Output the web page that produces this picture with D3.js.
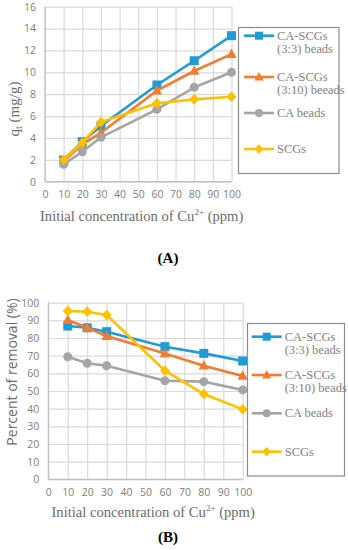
<!DOCTYPE html>
<html><head><meta charset="utf-8">
<script src="https://cdn.jsdelivr.net/npm/d3@7"></script>
<style>body{margin:0;background:#fff}svg{display:block}</style>
</head><body>
<svg id="c" width="348" height="550"></svg>
<script>
const conc = [10, 20, 30, 60, 80, 100];
const seriesNames = ["CA-SCGs|(3:3) beads", "CA-SCGs|(3:10) beeads", "CA beads", "SCGs"];
const seriesNamesB = ["CA-SCGs|(3:3) beads", "CA-SCGs|(3:10) beads", "CA beads", "SCGs"];
const colors = ["#1f9bd7", "#f47b2f", "#a5a5a5", "#ffc000"];
const shapes = ["square", "triangle", "circle", "diamond"];
const qA_33 = [1.98, 3.66, 5.1, 8.84, 11.06, 13.35];
const qA_310 = [1.9, 3.4, 4.48, 8.32, 10.12, 11.67];
const qA_CA = [1.59, 2.74, 4.06, 6.62, 8.63, 10.0];
const qA_SCG = [2.0, 3.57, 5.45, 7.17, 7.53, 7.77];
const rB_33 = [86.8, 85.8, 83.6, 75.1, 71.3, 67.0];
const rB_310 = [90.2, 85.8, 81.1, 71.3, 64.3, 58.5];
const rB_CA = [69.4, 65.7, 64.3, 55.8, 55.3, 50.6];
const rB_SCG = [95.3, 94.9, 93.0, 61.5, 48.3, 39.6];
const xTicks = [0, 10, 20, 30, 40, 50, 60, 70, 80, 90, 100];
const yTicksA = [0, 2, 4, 6, 8, 10, 12, 14, 16];
const yTicksB = [0, 10, 20, 30, 40, 50, 60, 70, 80, 90, 100];

const svg = d3.select("#c");
const serif = "'Liberation Serif', 'DejaVu Serif', serif";
const sans = "'Open Sans', 'Liberation Sans', sans-serif";

function marker(g, shape, x, y, color, s) {
  if (shape === "square") g.append("rect").attr("x", x - s).attr("y", y - s).attr("width", 2*s).attr("height", 2*s).attr("fill", color);
  else if (shape === "circle") g.append("circle").attr("cx", x).attr("cy", y).attr("r", s).attr("fill", color);
  else if (shape === "triangle") g.append("path").attr("d", `M${x},${y-s*1.25}L${x+s*1.15},${y+s*0.85}L${x-s*1.15},${y+s*0.85}Z`).attr("fill", color);
  else g.append("path").attr("d", `M${x},${y-s*1.2}L${x+s*1.1},${y}L${x},${y+s*1.2}L${x-s*1.1},${y}Z`).attr("fill", color);
}

function panel(o) {
  const x = d3.scaleLinear().domain([0, 100]).range([o.x0, o.x1]);
  const y = d3.scaleLinear().domain([0, o.ymax]).range([o.y0, o.y1]);
  const g = svg.append("g");
  g.append("g").attr("transform", `translate(0,${o.y0})`)
    .call(d3.axisBottom(x).tickValues(xTicks).tickSize(o.y1 - o.y0).tickFormat(""))
    .call(a => a.select(".domain").remove())
    .call(a => a.selectAll("line").attr("stroke", "#d9d9d9").attr("stroke-width", 1.2));
  g.append("g").attr("transform", `translate(${o.x0},0)`)
    .call(d3.axisRight(y).tickValues(o.yTicks).tickSize(o.x1 - o.x0).tickFormat(""))
    .call(a => a.select(".domain").remove())
    .call(a => a.selectAll("line").attr("stroke", "#d9d9d9").attr("stroke-width", 1.2));
  g.append("line").attr("x1", o.x0).attr("x2", o.x1).attr("y1", o.y0).attr("y2", o.y0).attr("stroke", "#bfbfbf").attr("stroke-width", 1.2);
  g.append("line").attr("x1", o.x0).attr("x2", o.x0).attr("y1", o.y0).attr("y2", o.y1).attr("stroke", "#bfbfbf").attr("stroke-width", 1.2);
  const xa = g.append("g").attr("transform", `translate(0,${o.y0 + 6})`)
    .call(d3.axisBottom(x).tickValues(xTicks).tickSize(0));
  xa.select(".domain").remove();
  xa.selectAll("text").attr("font-family", sans).attr("font-size", 10.5).attr("fill", "#808080");
  const ya = g.append("g").attr("transform", `translate(${o.x0 - 6},0)`)
    .call(d3.axisLeft(y).tickValues(o.yTicks).tickSize(0));
  ya.select(".domain").remove();
  ya.selectAll("text").attr("font-family", sans).attr("font-size", 10.5).attr("fill", "#808080");
  const line = d3.line().x((d, i) => x(conc[i])).y(d => y(d));
  o.data.forEach((s, k) => {
    g.append("path").attr("d", line(s)).attr("fill", "none").attr("stroke", colors[k]).attr("stroke-width", 2.6);
    s.forEach((v, i) => marker(g, shapes[k], x(conc[i]), y(v), colors[k], 4.5));
  });
  const xt = g.append("text").attr("x", (o.xtL)).attr("y", o.xtY).attr("font-family", serif).attr("font-size", 14.6).attr("fill", "#6b6b6b");
  xt.append("tspan").text("Initial concentration of Cu");
  xt.append("tspan").attr("font-size", 9).attr("dy", -6).text("2+");
  xt.append("tspan").attr("dy", 6).text(o.xtGap + "(ppm)");
  g.append("rect").attr("x", o.lx).attr("y", o.ly).attr("width", o.lw).attr("height", o.lh).attr("fill", "#fff").attr("stroke", "#8c8c8c").attr("stroke-width", 1.2);
  o.names.forEach((nm, k) => {
    const yy = o.legY[k];
    g.append("line").attr("x1", o.llx).attr("x2", o.llx + 30).attr("y1", yy).attr("y2", yy).attr("stroke", colors[k]).attr("stroke-width", 2.6);
    marker(g, shapes[k], o.llx + 15, yy, colors[k], 4);
    const parts = nm.split("|");
    const t = g.append("text").attr("x", o.llx + 33).attr("y", yy + 4).attr("font-family", serif).attr("font-size", 12.5).attr("fill", "#7f7f7f");
    parts.forEach((p, j) => t.append("tspan").attr("x", o.llx + 33).attr("dy", j ? 13 : 0).text(p));
  });
  svg.append("text").attr("x", 168).attr("y", o.lab).attr("text-anchor", "middle").attr("font-family", serif).attr("font-weight", "bold").attr("font-size", 15).attr("fill", "#000").text(o.labText);
  return g;
}

const gA = panel({x0: 45, x1: 231.5, y0: 181.7, y1: 6.7, ymax: 16, yTicks: yTicksA,
  data: [qA_33, qA_310, qA_CA, qA_SCG], names: seriesNames,
  xtL: 40, xtY: 221, xtGap: "  ",
  lx: 238.5, ly: 27.5, lw: 100.5, lh: 146, llx: 244, legY: [35.7, 77, 113, 149],
  lab: 263, labText: "(A)"});
const ytA = gA.append("text").attr("transform", "translate(19,109) rotate(-90)").attr("text-anchor", "middle").attr("font-family", serif).attr("font-size", 15).attr("fill", "#6b6b6b");
ytA.append("tspan").text("q");
ytA.append("tspan").attr("font-size", 10).attr("dy", 3).text("t");
ytA.append("tspan").attr("dy", -3).text(" (mg/g)");

const gB = panel({x0: 48.3, x1: 242.7, y0: 479.3, y1: 302.7, ymax: 100, yTicks: yTicksB,
  data: [rB_33, rB_310, rB_CA, rB_SCG], names: seriesNamesB,
  xtL: 51.5, xtY: 517, xtGap: " ",
  lx: 247.5, ly: 323.5, lw: 97, lh: 152.5, llx: 251.7, legY: [336.7, 375, 413.3, 451.7],
  lab: 542, labText: "(B)"});
gB.append("text").attr("transform", "translate(17,372) rotate(-90)").attr("text-anchor", "middle").attr("font-family", sans).attr("font-size", 14).attr("fill", "#6b6b6b").text("Percent of removal  (%)");
</script>
</body></html>
